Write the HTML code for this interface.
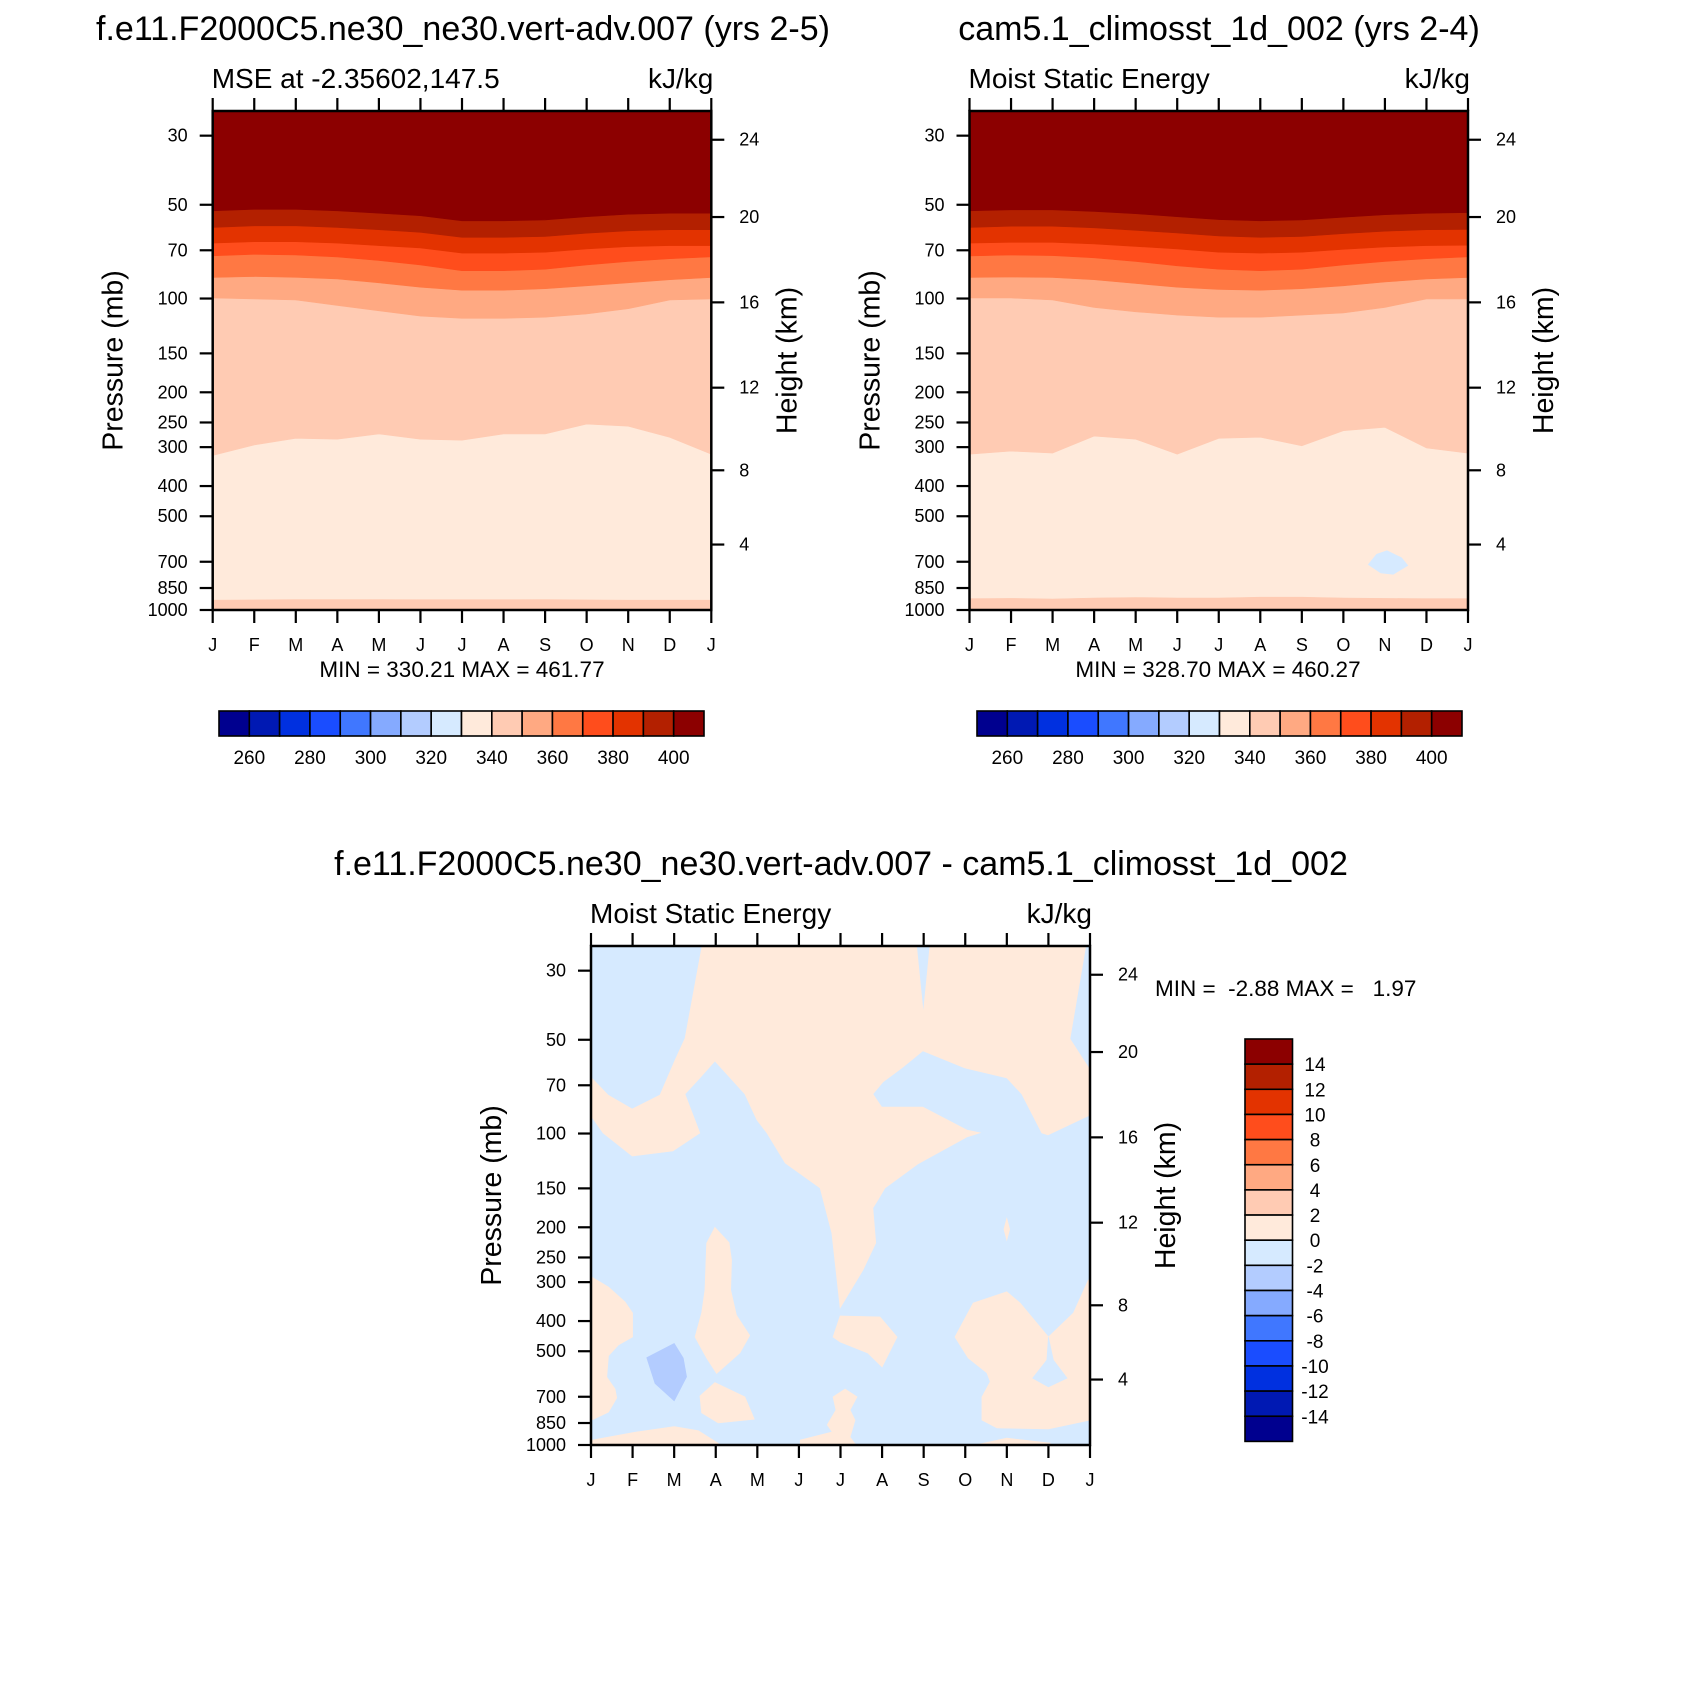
<!DOCTYPE html>
<html><head><meta charset="utf-8">
<style>
html,body{margin:0;padding:0;background:#fff;}
svg{display:block;font-family:"Liberation Sans",Arial,sans-serif;}
</style></head>
<body>
<svg id="fig" width="1681" height="1681" viewBox="0 0 1681 1681" xmlns="http://www.w3.org/2000/svg"></svg>
<script>
// ---------- data ----------
const monthLabels = ["J","F","M","A","M","J","J","A","S","O","N","D","J"];
const pressureTicks = [30,50,70,100,150,200,250,300,400,500,700,850,1000];
const heightTicks = [4,8,12,16,20,24];
const mseLevels = [260,270,280,290,300,310,320,330,340,350,360,370,380,390,400];
const mseLabels = [260,280,300,320,340,360,380,400];
const diffLabels = [14,12,10,8,6,4,2,0,-2,-4,-6,-8,-10,-12,-14];
const palette = ["#00008f","#0019b3","#0030e0","#1a4dff","#4077ff","#85aaff","#b3ccff","#d6eaff","#ffeadb","#ffcbb3","#ffa982","#ff7843","#ff4d1c","#e33300","#b32000","#8c0000"];

// contour boundary pressures (mb) for each month J..J, model 1 (left)
const leftB340 = [319,295,281,283,272,283,285,272,272,253,257,279,316];
const leftB350 = [99.6,100.3,101.1,105.2,109.5,113.9,115.7,115.7,114.8,112.1,107.8,101.1,100.3];
const leftB360 = [85.6,85,85.5,86.5,89,92,94,94,93,91,89,87,85.6];
const leftB370 = [72.9,72.1,72.5,73.5,75.5,78,81.4,81.4,80.5,78,76,74.5,73.5];
const leftB380 = [66.4,65.7,65.7,66.4,67.6,68.8,71.5,71.5,71,69.3,68.1,67.6,67.6];
const leftB390 = [59.1,58.4,58.4,59.1,60.1,61.3,63.6,63.6,63.2,61.7,60.6,60.1,60.1];
const leftB400 = [52.3,51.7,51.7,52.3,53.2,54.2,56.3,56.3,55.9,54.6,53.6,53.2,53.2];
const leftSurface = [930,928,926,926,925,927,927,927,926,928,930,930,930];
// model 2 (right)
const rightB340 = [316,309,313.5,276.5,283,316,281,278.7,297,265.7,259,302,313.5];
const rightB350 = [99.6,99.6,101.1,106.8,110.3,113,114.8,114.8,113,111.3,106.8,100.3,100.3];
const rightB360 = [85.6,85.3,85.6,87,89.5,92,93.5,94,93,91,88.5,86.5,85.6];
const rightB370 = [73,72.5,72.8,74,76,78.5,80.5,81.4,80.5,78,76,74.5,73.5];
const rightB380 = [66.4,66,66,66.8,68,69.3,71,71.5,71,69.5,68.3,67.6,67.4];
const rightB390 = [59.1,58.6,58.6,59.3,60.4,61.6,63,63.6,63.2,61.9,60.8,60.1,60];
const rightB400 = [52.3,51.9,51.9,52.5,53.4,54.6,55.8,56.3,55.9,54.8,53.8,53.2,53];
const rightSurface = [920,918,922,915,912,915,915,910,910,915,918,920,920];
const rightBlob = [[9.6,715],[9.8,662],[10.05,645],[10.4,680],[10.55,720],[10.2,768],[9.9,760]];

// difference plot regions: [month, pressure]
const diffPeachA = [[2.67,25],[7.83,25],[7.99,41],[8.15,25],[11.9,25],[11.52,49.7],[12,62.5],[12,87.2],[10.99,101],[10.84,99.6],[10.36,74.7],[10.0,66.3],[8.99,61.6],[7.98,54.3],[7.5,61.2],[7.02,68.3],[6.78,74.7],[6.99,82.2],[7.98,82.2],[9.04,97.4],[9.36,99.5],[9.04,102.6],[7.86,125.3],[7.07,149.6],[6.9,163.5],[6.78,173.4],[6.85,224.7],[6.54,274.3],[5.99,363.3],[5.79,208.7],[5.51,149.6],[4.67,124.3],[4.23,99.6],[3.99,90.5],[3.7,74.7],[2.98,58.5],[2.62,66.3],[2.26,74.7],[2.62,99.6],[1.97,113.8],[0.99,118.1],[0.29,99.6],[0.02,88.5],[0,88.5],[0,66],[0.41,75.2],[0.99,83.4],[1.66,75.2],[2.02,58.1],[2.26,49.5]];
const diffPeachB = [[0,288.8],[0.02,288.8],[0.42,311],[0.82,347.5],[1.0,377],[1.0,450],[0.66,477.6],[0.42,517],[0.38,605],[0.58,661],[0.62,706.5],[0.42,784],[0.02,832],[0,832]];
const diffPeachC = [[2.98,200],[3.32,224],[3.38,255],[3.36,318],[3.5,383],[3.82,445],[3.58,506],[3.02,590],[2.78,526],[2.5,450],[2.66,377],[2.74,318],[2.78,225]];
const diffPeachD = [[2.98,630],[3.7,701],[3.93,827],[3.06,850],[2.66,788],[2.62,696]];
const diffBlueE = [[1.34,524],[2.0,472],[2.22,526],[2.3,604],[2.0,722],[1.54,634]];
const diffPeachF = [[0,964],[0.03,964],[1.06,910],[2.0,872],[2.58,900],[3.06,987],[3.1,1000],[0,1000]];
const diffPeachG = [[5.82,450],[5.99,385],[6.95,388],[7.36,450],[7.0,562],[6.66,507],[5.99,467]];
const diffPeachH = [[5.03,964],[5.8,908],[5.68,862],[5.89,772],[5.82,701],[6.11,661],[6.4,701],[6.23,772],[6.35,832],[6.23,943],[6.37,1000],[5.03,1000]];
const diffPeachI = [[8.75,450],[9.19,350],[10.0,322],[10.32,350],[11.0,450],[11.6,377],[11.96,295],[12,295],[12,832],[11.0,888],[9.76,882],[9.4,832],[9.4,701],[9.6,626],[9.52,587],[9.07,526]];
const diffBlueNotch = [[11.0,450],[10.96,534],[10.62,610],[11.0,651],[11.45,610],[11.12,534]];
const diffPeachJ = [[10.0,187],[10.07,203],[10.0,220],[9.93,203]];
const diffPeachK = [[9.24,1000],[10.0,950],[11.04,985],[11.04,1000]];

// ---------- helpers ----------
const NS = "http://www.w3.org/2000/svg";
const svg = document.getElementById("fig");
function mk(tag, attrs, parent){
  const e = document.createElementNS(NS, tag);
  for (const k in attrs) e.setAttribute(k, attrs[k]);
  (parent||svg).appendChild(e);
  return e;
}
function txt(s, x, y, size, anchor, parent, extra){
  const t = mk("text", Object.assign({x:x, y:y, "font-size":size, "text-anchor":anchor||"start", fill:"#000"}, extra||{}), parent);
  t.textContent = s;
  return t;
}
const P_TOP = 25, P_BOT = 1000;
function stdPressure(zkm){
  const z = zkm*1000;
  if (z <= 11000) return 1013.25*Math.pow(1-2.25577e-5*z, 5.25588);
  if (z <= 20000) return 226.32*Math.exp(-(z-11000)/6341.6);
  return 54.75*Math.exp(-(z-20000)/7000);
}
function makeAxes(f){
  f.xs = m => f.x0 + m*(f.x1-f.x0)/12;
  f.ys = p => f.y0 + Math.log(p/P_TOP)/Math.log(P_BOT/P_TOP)*(f.y1-f.y0);
  return f;
}
function poly(f, pts, color, parent, name){
  const d = pts.map((q,i)=>(i?"L":"M")+f.xs(q[0]).toFixed(1)+","+f.ys(q[1]).toFixed(1)).join("")+"Z";
  const e = mk("path", {d:d, fill:color, stroke:color, "stroke-width":0.6}, parent);
  
  
  return e;
}
function bandAbove(f, arr, color, parent, name){
  const pts = arr.map((p,i)=>[i,p]);
  pts.push([12,P_TOP]); pts.push([0,P_TOP]);
  return poly(f, pts, color, parent, name);
}
function bandBelow(f, arr, color, parent, name){
  const pts = arr.map((p,i)=>[i,p]);
  pts.push([12,P_BOT]); pts.push([0,P_BOT]);
  return poly(f, pts, color, parent, name);
}
function drawAxes(f, g, o){
  const fr = mk("rect", {x:f.x0, y:f.y0, width:f.x1-f.x0, height:f.y1-f.y0, fill:"none", stroke:"#000", "stroke-width":2.5}, g);
  
  
  const tl = 13;
  monthLabels.forEach((lab,i)=>{
    const x = f.xs(i);
    mk("line", {x1:x, y1:f.y1, x2:x, y2:f.y1+tl, stroke:"#000", "stroke-width":2.2}, g);
    mk("line", {x1:x, y1:f.y0, x2:x, y2:f.y0-tl, stroke:"#000", "stroke-width":2.2}, g);
    const t = txt(lab, x, f.y1+41, 18, "middle", g);
    
    
  });
  pressureTicks.forEach(p=>{
    const y = f.ys(p);
    mk("line", {x1:f.x0-tl, y1:y, x2:f.x0, y2:y, stroke:"#000", "stroke-width":2.2}, g);
    const t = txt(String(p), f.x0-25, y+6, 18, "end", g);
    
    
  });
  heightTicks.forEach(h=>{
    const y = f.ys(stdPressure(h));
    mk("line", {x1:f.x1, y1:y, x2:f.x1+tl, y2:y, stroke:"#000", "stroke-width":2.2}, g);
    const t = txt(String(h), f.x1+28, y+6, 18, "start", g);
    
    
  });
  const cy = (f.y0+f.y1)/2;
  let t = txt("Pressure (mb)", 0, 0, 28.5, "middle", g, {transform:`translate(${f.x0-90},${cy}) rotate(-90)`});
  
  
  t = txt("Height (km)", 0, 0, 28.5, "middle", g, {transform:`translate(${f.x1+85},${cy}) rotate(-90)`});
  
  
  t = txt(o.left, f.x0-1, f.y0-23, 28, "start", g);
  
  
  t = txt("kJ/kg", f.x1+2, f.y0-23, 28, "end", g);
  
  
  t = txt(o.title, o.tx, o.ty, 34, "middle", g);
  
  
}
function layered(f, B, surf, g){
  const bg = mk("rect", {x:f.x0, y:f.y0, width:f.x1-f.x0, height:f.y1-f.y0, fill:palette[8]}, g);
  
  
  B.forEach((arr,k)=> bandAbove(f, arr, palette[9+k], g, "band-above-"+(340+10*k)));
  bandBelow(f, surf, palette[9], g, "surface-band");
}
function hColorbar(x0, y0, w, h, g){
  const n = palette.length, bw = w/n;
  palette.forEach((c,i)=>{
    const r = mk("rect", {x:x0+i*bw, y:y0, width:bw, height:h, fill:c, stroke:"#000", "stroke-width":1.6}, g);
    
    
  });
  mseLevels.forEach((lv,i)=>{
    if (mseLabels.indexOf(lv) < 0) return;
    const t = txt(String(lv), x0+(i+1)*bw, y0+h+28, 19, "middle", g);
    
    
  });
}

// ---------- panel 1 ----------
const f1 = makeAxes({x0:212.7, x1:711.3, y0:111, y1:610});
const g1 = mk("g", {});  
layered(f1, [leftB340,leftB350,leftB360,leftB370,leftB380,leftB390,leftB400], leftSurface, g1);
drawAxes(f1, g1, {left:"MSE at -2.35602,147.5", title:"f.e11.F2000C5.ne30_ne30.vert-adv.007 (yrs 2-5)", tx:463, ty:40});
let mm = txt("MIN = 330.21 MAX = 461.77", 462, 677, 22.5, "middle", g1);
 
hColorbar(219, 711, 485, 25, g1);

// ---------- panel 2 ----------
const f2 = makeAxes({x0:969.5, x1:1468, y0:111, y1:610});
const g2 = mk("g", {});  
layered(f2, [rightB340,rightB350,rightB360,rightB370,rightB380,rightB390,rightB400], rightSurface, g2);
poly(f2, rightBlob, palette[7], g2, "negative-blob");
drawAxes(f2, g2, {left:"Moist Static Energy", title:"cam5.1_climosst_1d_002 (yrs 2-4)", tx:1219, ty:40});
mm = txt("MIN = 328.70 MAX = 460.27", 1218, 677, 22.5, "middle", g2);
 
hColorbar(977, 711, 485, 25, g2);

// ---------- panel 3 (difference) ----------
const f3 = makeAxes({x0:591, x1:1090, y0:946, y1:1445});
const g3 = mk("g", {});  
const bg3 = mk("rect", {x:f3.x0, y:f3.y0, width:499, height:499, fill:palette[7]}, g3);
 
[diffPeachA,diffPeachB,diffPeachC,diffPeachD,diffPeachF,diffPeachG,diffPeachH,diffPeachI,diffPeachJ,diffPeachK].forEach((pts,i)=>poly(f3, pts, palette[8], g3, "positive-region"));
poly(f3, diffBlueNotch, palette[7], g3, "negative-notch");
poly(f3, diffBlueE, palette[6], g3, "negative-region-2-4");
drawAxes(f3, g3, {left:"Moist Static Energy", title:"f.e11.F2000C5.ne30_ne30.vert-adv.007 - cam5.1_climosst_1d_002", tx:841, ty:875});
mm = txt("MIN =  -2.88 MAX =   1.97", 1155, 996, 22.5, "start", g3, {"xml:space":"preserve"});
mm.style.whiteSpace = "pre";
 
// vertical colorbar
(function(){
  const x0 = 1245, y0 = 1039, w = 47.5, bh = 25.15, n = palette.length;
  for (let i=0;i<n;i++){
    const r = mk("rect", {x:x0, y:y0+i*bh, width:w, height:bh, fill:palette[n-1-i], stroke:"#000", "stroke-width":1.6}, g3);
    
    
  }
  diffLabels.forEach((lv,i)=>{
    const t = txt(String(lv), 1315, y0+(i+1)*bh+7, 19, "middle", g3);
    
    
  });
})();
</script>
</body></html>
